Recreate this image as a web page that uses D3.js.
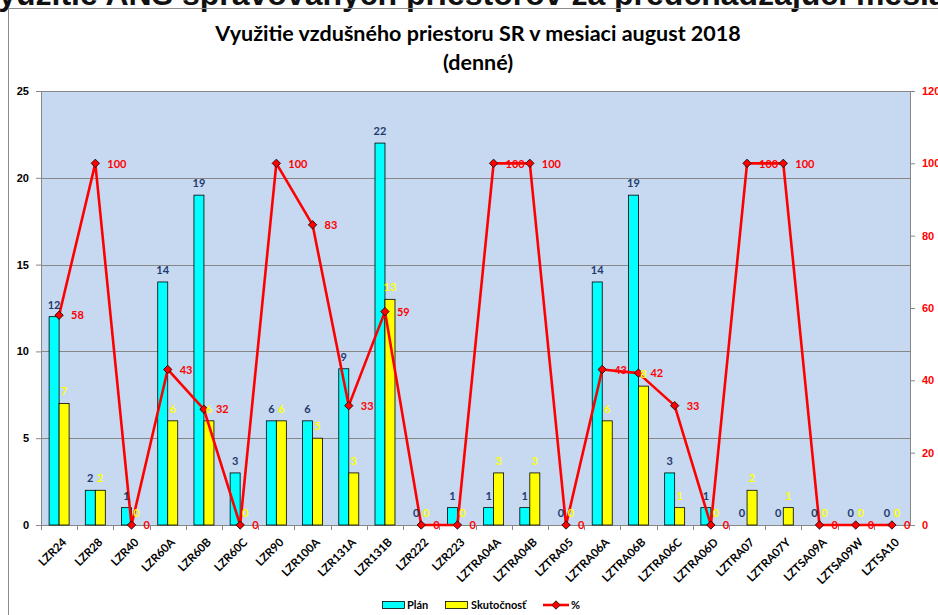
<!DOCTYPE html>
<html>
<head>
<meta charset="utf-8">
<script src="https://cdn.jsdelivr.net/npm/d3@7"></script>
<style>
  body { margin: 0; background: #fff; }
  svg { display: block; font-family: Lato, "Open Sans", sans-serif; }
</style>
</head>
<body>
<div id="container"></div>
<script>
// data
var categories = ["LZR24", "LZR28", "LZR40", "LZR60A", "LZR60B", "LZR60C", "LZR90", "LZR100A",
                  "LZR131A", "LZR131B", "LZR222", "LZR223", "LZTRA04A", "LZTRA04B", "LZTRA05",
                  "LZTRA06A", "LZTRA06B", "LZTRA06C", "LZTRA06D", "LZTRA07", "LZTRA07Y",
                  "LZTSA09A", "LZTSA09W", "LZTSA10"];
var plan    = [12, 2, 1, 14, 19, 3, 6, 6, 9, 22, 0, 1, 1, 1, 0, 14, 19, 3, 1, 0, 0, 0, 0, 0];
var actual  = [7, 2, 0, 6, 6, 0, 6, 5, 3, 13, 0, 0, 3, 3, 0, 6, 8, 1, 0, 2, 1, 0, 0, 0];
var percent = [58, 100, 0, 43, 32, 0, 100, 83, 33, 59, 0, 0, 100, 100, 0, 43, 42, 33, 0, 100, 100, 0, 0, 0];
var leftTicks  = [0, 5, 10, 15, 20, 25];
var rightTicks = [0, 20, 40, 60, 80, 100, 120];

// width and height
var width = 938;
var height = 615;
var margin = {top: 91, right: 28, bottom: 90, left: 41};
var plotW = width - margin.left - margin.right;
var plotH = height - margin.top - margin.bottom;

var svg = d3.select("#container")
    .append("svg")
    .attr("width", width)
    .attr("height", height);

// cropped heading of the page above the chart
svg.append("text")
    .attr("x", -22)
    .attr("y", 5)
    .style("font-family", "'Liberation Sans', Arial, sans-serif")
    .style("font-size", "32px")
    .style("font-weight", "bold")
    .attr("fill", "#111")
    .text("Využitie ANS spravovaných priestorov za predchádzajúci mesiac");

// chart frame
svg.append("rect")
    .attr("x", 8.5).attr("y", 8.5)
    .attr("width", width).attr("height", height)
    .attr("fill", "none")
    .attr("stroke", "#8c8c8c");

// titles
svg.append("text")
    .attr("x", 478).attr("y", 41)
    .attr("text-anchor", "middle")
    .style("font-size", "21.5px").style("font-weight", "bold")
    .text("Využitie vzdušného priestoru SR v mesiaci august 2018");
svg.append("text")
    .attr("x", 478).attr("y", 70)
    .attr("text-anchor", "middle")
    .style("font-size", "21.5px").style("font-weight", "bold")
    .text("(denné)");

var g = svg.append("g")
    .attr("transform", "translate(" + margin.left + "," + margin.top + ")");

// scales
var x = d3.scaleBand().domain(categories).range([0, plotW]);
var xSub = d3.scaleBand().domain(["plan", "actual"])
    .range([x.bandwidth() / 2 - 10, x.bandwidth() / 2 + 10]);
var y = d3.scaleLinear().domain([0, 25]).range([plotH, 0]);
var y2 = d3.scaleLinear().domain([0, 120]).range([plotH, 0]);

// plot background
g.append("rect")
    .attr("width", plotW).attr("height", plotH)
    .attr("fill", "#c6d9f1");

// grid lines
g.selectAll(".grid")
    .data(leftTicks.slice(1))
    .enter().append("line")
    .attr("x1", 0).attr("x2", plotW)
    .attr("y1", function(d) { return Math.round(y(d)) + 0.5; })
    .attr("y2", function(d) { return Math.round(y(d)) + 0.5; })
    .attr("stroke", "#878787");

// axes
var leftAxis = g.append("g")
    .call(d3.axisLeft(y).tickValues(leftTicks).tickSize(5).tickPadding(7));
var rightAxis = g.append("g")
    .attr("transform", "translate(" + plotW + ",0)")
    .call(d3.axisRight(y2).tickValues(rightTicks).tickSize(5).tickPadding(7));
var bottomAxis = g.append("g")
    .attr("transform", "translate(0," + plotH + ")")
    .call(d3.axisBottom(x).tickSize(0).tickFormat(""));

[leftAxis, rightAxis, bottomAxis].forEach(function(a) {
  a.select(".domain").attr("stroke", "#878787");
  a.selectAll(".tick line").attr("stroke", "#878787");
});
leftAxis.selectAll("text")
    .style("font-size", "11px").style("font-weight", "bold").attr("fill", "#000");
rightAxis.selectAll("text")
    .style("font-size", "11px").style("font-weight", "bold").attr("fill", "#ff0000");

// category boundary ticks
g.selectAll(".xtick")
    .data(categories)
    .enter().append("line")
    .attr("x1", function(d) { return Math.round(x(d)) + 0.5; })
    .attr("x2", function(d) { return Math.round(x(d)) + 0.5; })
    .attr("y1", plotH).attr("y2", plotH + 5)
    .attr("stroke", "#878787");

// category labels
g.selectAll(".xlab")
    .data(categories)
    .enter().append("text")
    .attr("transform", function(d) {
      return "translate(" + (x(d) + x.bandwidth() / 2 + 8) + "," + (plotH + 18) + ") rotate(-45)";
    })
    .attr("text-anchor", "end")
    .style("font-size", "11.5px").style("font-weight", "bold")
    .text(function(d) { return d; });

// bars
g.selectAll(".bar-plan")
    .data(plan)
    .enter().append("rect")
    .attr("x", function(d, i) { return x(categories[i]) + xSub("plan"); })
    .attr("width", xSub.bandwidth())
    .attr("y", function(d) { return y(d); })
    .attr("height", function(d) { return plotH - y(d); })
    .attr("fill", "#00ffff").attr("stroke", "#000").attr("stroke-width", 0.8);

g.selectAll(".bar-actual")
    .data(actual)
    .enter().append("rect")
    .attr("x", function(d, i) { return x(categories[i]) + xSub("actual"); })
    .attr("width", xSub.bandwidth())
    .attr("y", function(d) { return y(d); })
    .attr("height", function(d) { return plotH - y(d); })
    .attr("fill", "#ffff00").attr("stroke", "#000").attr("stroke-width", 0.8);

// percent line
var line = d3.line()
    .x(function(d, i) { return x(categories[i]) + x.bandwidth() / 2; })
    .y(function(d) { return y2(d); });

g.append("path")
    .datum(percent)
    .attr("d", line)
    .attr("fill", "none")
    .attr("stroke", "#ff0000")
    .attr("stroke-width", 2.6)
    .attr("stroke-linejoin", "round");

g.selectAll(".marker")
    .data(percent)
    .enter().append("path")
    .attr("d", d3.symbol().type(d3.symbolDiamond2).size(45))
    .attr("transform", function(d, i) {
      return "translate(" + (x(categories[i]) + x.bandwidth() / 2) + "," + y2(d) + ")";
    })
    .attr("fill", "#ff0000").attr("stroke", "#000").attr("stroke-width", 0.8);

// data labels
g.selectAll(".lab-plan")
    .data(plan)
    .enter().append("text")
    .attr("x", function(d, i) { return x(categories[i]) + xSub("plan") + xSub.bandwidth() / 2; })
    .attr("y", function(d) { return y(d) - 8; })
    .attr("text-anchor", "middle")
    .style("font-size", "11px").style("font-weight", "bold")
    .attr("fill", "#1f3a6e")
    .text(function(d) { return d; });

g.selectAll(".lab-actual")
    .data(actual)
    .enter().append("text")
    .attr("x", function(d, i) { return x(categories[i]) + xSub("actual") + xSub.bandwidth() / 2; })
    .attr("y", function(d) { return y(d) - 8; })
    .attr("text-anchor", "middle")
    .style("font-size", "11px").style("font-weight", "bold")
    .attr("fill", "#ffff00")
    .text(function(d) { return d; });

g.selectAll(".lab-pct")
    .data(percent)
    .enter().append("text")
    .attr("x", function(d, i) { return x(categories[i]) + x.bandwidth() / 2 + 12; })
    .attr("y", function(d) { return y2(d); })
    .attr("dy", "0.38em")
    .style("font-size", "11px").style("font-weight", "bold")
    .attr("fill", "#ff0000")
    .text(function(d) { return d; });

// legend
var legend = svg.append("g").attr("transform", "translate(0,605)");
legend.append("rect").attr("x", 382.5).attr("y", -3.5).attr("width", 22).attr("height", 7)
    .attr("fill", "#00ffff").attr("stroke", "#000").attr("stroke-width", 0.8);
legend.append("text").attr("x", 407).attr("dy", "0.36em")
    .style("font-size", "11px").style("font-weight", "bold").text("Plán");
legend.append("rect").attr("x", 445.5).attr("y", -3.5).attr("width", 22).attr("height", 7)
    .attr("fill", "#ffff00").attr("stroke", "#000").attr("stroke-width", 0.8);
legend.append("text").attr("x", 471).attr("dy", "0.36em")
    .style("font-size", "11px").style("font-weight", "bold").text("Skutočnosť");
legend.append("line").attr("x1", 543).attr("x2", 569).attr("y1", 0).attr("y2", 0)
    .attr("stroke", "#ff0000").attr("stroke-width", 2.6);
legend.append("path")
    .attr("d", d3.symbol().type(d3.symbolDiamond2).size(45))
    .attr("transform", "translate(556,0)")
    .attr("fill", "#ff0000").attr("stroke", "#000").attr("stroke-width", 0.8);
legend.append("text").attr("x", 571).attr("dy", "0.36em")
    .style("font-size", "11px").style("font-weight", "bold").text("%");
</script>
</body>
</html>
